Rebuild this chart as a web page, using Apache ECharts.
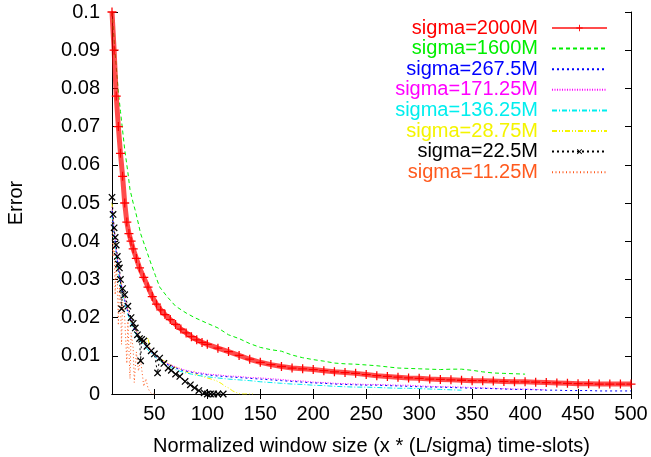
<!DOCTYPE html>
<html>
<head>
<meta charset="utf-8">
<script src="https://cdn.jsdelivr.net/npm/echarts@6/dist/echarts.min.js"></script>
<style>
  html, body { margin: 0; padding: 0; background: #fff; }
  #chart { width: 651px; height: 457px; }
</style>
</head>
<body>
<div id="chart"></div>
<script>
// x ticks / y range
const xTicks = [50, 100, 150, 200, 250, 300, 350, 400, 450, 500];

// [window size, error]
const s2000 = [[10,0.1],[12,0.090],[14,0.078],[16,0.070],[18,0.063],[20,0.057],[22,0.050],[24,0.045],[26,0.042],[28,0.040],[30,0.038],[33,0.0355],[36,0.033],[40,0.0305],[44,0.028],[48,0.0255],[52,0.0235],[56,0.022],[60,0.0208],[65,0.0195],[70,0.0182],[75,0.0170],[80,0.0160],[85,0.0150],[90,0.0142],[95,0.0135],[100,0.0130],[110,0.0120],[120,0.0111],[130,0.0101],[140,0.0091],[150,0.0083],[160,0.0077],[170,0.0072],[180,0.0068],[190,0.0066],[200,0.0064],[210,0.0061],[220,0.0058],[230,0.0056],[240,0.0054],[250,0.0051],[260,0.0048],[270,0.0046],[280,0.0044],[290,0.0042],[300,0.0041],[310,0.0039],[320,0.0038],[330,0.0037],[340,0.0036],[350,0.0035],[360,0.0035],[370,0.0034],[380,0.0033],[390,0.0032],[400,0.0032],[410,0.0031],[420,0.0030],[430,0.0029],[440,0.0028],[450,0.0027],[460,0.0027],[470,0.0026],[480,0.0026],[490,0.0026],[500,0.0026]];
const s1600 = [[10,0.1],[13,0.089],[16,0.079],[18,0.074],[20,0.069],[22,0.064],[25,0.058],[27,0.0535],[30,0.050],[32,0.048],[35,0.0445],[37,0.042],[42,0.038],[47,0.034],[51,0.031],[55,0.028],[62,0.0255],[70,0.023],[80,0.0212],[88,0.020],[100,0.0185],[110,0.0173],[120,0.0155],[130,0.0145],[140,0.0132],[150,0.0122],[160,0.0116],[170,0.0112],[180,0.0102],[190,0.0095],[200,0.0090],[210,0.0086],[220,0.0081],[230,0.0079],[240,0.0078],[250,0.0076],[260,0.0074],[270,0.0071],[280,0.0068],[290,0.0067],[300,0.0066],[310,0.0065],[320,0.0064],[330,0.0065],[340,0.0065],[350,0.0062],[360,0.0058],[370,0.0055],[380,0.0054],[390,0.0053],[400,0.0052]];
const s267 = [[10,0.048],[11,0.045],[12,0.042],[13,0.040],[14,0.037],[15,0.035],[16,0.033],[17,0.031],[18,0.0295],[19,0.028],[20,0.0265],[22,0.0245],[24,0.0225],[26,0.0205],[28,0.019],[30,0.0175],[33,0.016],[36,0.0145],[40,0.0133],[44,0.012],[48,0.0108],[52,0.0097],[56,0.0088],[60,0.0080],[65,0.0074],[70,0.0068],[75,0.0063],[80,0.0060],[85,0.0057],[90,0.0054],[95,0.0052],[100,0.0050],[110,0.0047],[120,0.0045],[130,0.0043],[140,0.0041],[150,0.0039],[160,0.0037],[170,0.0035],[180,0.0033],[190,0.0031],[200,0.0029],[210,0.0028],[220,0.0026],[230,0.0025],[240,0.0024],[250,0.0023],[260,0.0023],[270,0.0022],[280,0.0021],[290,0.0020],[300,0.0019],[310,0.0018],[320,0.0018],[330,0.0017],[340,0.0016],[350,0.0015],[360,0.0015],[370,0.0014],[380,0.0013],[390,0.0012],[400,0.0012],[410,0.0011],[420,0.0010],[430,0.0010],[440,0.0009],[450,0.0009],[460,0.0009],[470,0.0008],[480,0.0008],[490,0.0008],[500,0.0008]];
const s171 = [[10,0.049],[11,0.046],[12,0.043],[13,0.041],[14,0.038],[15,0.036],[16,0.034],[17,0.032],[18,0.030],[19,0.029],[20,0.027],[22,0.025],[24,0.023],[26,0.021],[28,0.0195],[30,0.018],[33,0.0165],[36,0.015],[40,0.0138],[44,0.0125],[48,0.0112],[52,0.0100],[56,0.0090],[60,0.0083],[65,0.0077],[70,0.0071],[75,0.0066],[80,0.0062],[85,0.0059],[90,0.0056],[95,0.0055],[100,0.0052],[110,0.0050],[120,0.0047],[130,0.0046],[140,0.0043],[150,0.0042],[160,0.0040],[170,0.0038],[180,0.0035],[190,0.0034],[200,0.0031],[210,0.0030],[220,0.0028],[230,0.0027],[240,0.0026],[250,0.0025],[260,0.0025],[270,0.0024],[280,0.0023],[290,0.0023],[300,0.0021],[310,0.0020],[320,0.0019],[330,0.0019],[340,0.0018],[350,0.0017],[360,0.0016],[370,0.0015],[380,0.0014],[390,0.0013],[400,0.0013],[410,0.0012],[420,0.0011]];
const s136 = [[10,0.047],[11,0.044],[12,0.041],[13,0.039],[14,0.036],[15,0.034],[16,0.032],[17,0.030],[18,0.028],[19,0.027],[20,0.026],[22,0.024],[24,0.022],[26,0.020],[28,0.0185],[30,0.017],[33,0.0155],[36,0.014],[40,0.0128],[44,0.0115],[48,0.0104],[52,0.0094],[56,0.0085],[60,0.0077],[65,0.0070],[70,0.0064],[75,0.0059],[80,0.0055],[85,0.0052],[90,0.0049],[95,0.0047],[100,0.0045],[110,0.0042],[120,0.0039],[130,0.0037],[140,0.0035],[150,0.0032],[160,0.0030],[170,0.0028],[180,0.0026],[190,0.0025],[200,0.0023],[210,0.0022],[220,0.0020],[230,0.0019],[240,0.0018],[250,0.0018],[260,0.0017],[270,0.0016],[280,0.0015],[290,0.0015],[300,0.0014],[310,0.0013],[320,0.0012],[330,0.0011],[340,0.0010]];
const s28 = [[10,0.050],[11,0.046],[12,0.043],[13,0.040],[14,0.037],[15,0.035],[16,0.033],[18,0.030],[20,0.027],[22,0.025],[24,0.023],[26,0.021],[28,0.019],[30,0.018],[34,0.016],[38,0.0145],[41,0.013],[44,0.0147],[46,0.0118],[50,0.0106],[55,0.0094],[60,0.0085],[65,0.0077],[70,0.0070],[75,0.0064],[80,0.0058],[85,0.0052],[88,0.0060],[90,0.0050],[95,0.0046],[100,0.0042],[105,0.0038],[109,0.0034],[113,0.0028],[117,0.0020],[120,0.0016],[124,0.0008],[128,0.0003],[131,0],[135,0],[140,0],[143,0]];
const s22 = [[10,0.0515],[11,0.047],[12,0.0435],[13,0.041],[14,0.039],[15,0.036],[16,0.034],[17,0.033],[18,0.030],[19,0.0223],[20,0.0276],[22,0.026],[25,0.023],[28,0.020],[30,0.0185],[32,0.0173],[34,0.0155],[36,0.0145],[37,0.0087],[38,0.0143],[40,0.0139],[43,0.0125],[47,0.0113],[50,0.0105],[53,0.0055],[55,0.0094],[59,0.0080],[63,0.0068],[66,0.0062],[70,0.0052],[74,0.0046],[79,0.0033],[84,0.0024],[88,0.0016],[92,0.0009],[97,0.0003],[100,0],[103,0],[106,0],[110,0],[115,0]];
const s11 = [[10,0.045],[11,0.036],[12,0.040],[13,0.026],[14,0.034],[15,0.030],[16,0.018],[17,0.028],[18,0.024],[19,0.013],[20,0.024],[22,0.020],[24,0.008],[25,0.019],[27,0.004],[28,0.016],[30,0.012],[31,0.003],[33,0.011],[35,0.006],[37,0.009],[40,0.002],[42,0.004],[44,0.0015],[46,0.0005],[48,0],[50,0]];

const names = ['sigma=2000M','sigma=1600M','sigma=267.5M','sigma=171.25M','sigma=136.25M','sigma=28.75M','sigma=22.5M','sigma=11.25M'];
const colors = ['#ff0000','#00ee00','#0000ff','#ff00ff','#00eeee','#f4f400','#000000','#ff5a1e'];
const dashes = ['solid',[4,3],[2,3],[1,1.5],[5,2,1,2],[5,2,1,2,1,2],[2,3],[1,2.5]];
const datasets = [s2000, s1600, s267, s171, s136, s28, s22, s11];

const FONT = '"Liberation Sans", Arial, sans-serif';
const plus = 'path://M4.3,0H5.7V4.3H10V5.7H5.7V10H4.3V5.7H0V4.3H4.3Z';

const chart = echarts.init(document.getElementById('chart'), null, {renderer: 'canvas'});

const series = datasets.map(function (d, i) {
  const s = {
    name: names[i],
    type: 'line',
    data: d,
    xAxisIndex: 0,
    yAxisIndex: 0,
    symbol: 'none',
    lineStyle: {color: colors[i], width: 1, type: dashes[i]},
    itemStyle: {color: colors[i]},
    z: 10 - i
  };
  if (i === 0) {
    s.symbol = plus;
    s.symbolSize = 9;
    s.lineStyle.width = 5;
    s.lineStyle.opacity = 0.7;
    s.z = 12;
  }
  if (i === 6) {
    s.symbol = plus;
    s.symbolRotate = 45;
    s.symbolSize = 9;
    s.z = 11;
  }
  return s;
});

const legends = names.map(function (n, i) {
  const hasMark = (i === 0 || i === 6);
  return {
    data: [n],
    right: 43,
    top: 18 + i * 20.6,
    padding: 0,
    align: 'right',
    itemWidth: 55,
    itemHeight: 8,
    selectedMode: false,
    itemStyle: hasMark ? {} : {opacity: 0},
    lineStyle: i === 0 ? {width: 2} : {},
    textStyle: {color: colors[i], fontSize: 20, fontFamily: FONT, padding: [0, 9, 0, 0]}
  };
});

const axisCommon = {
  type: 'value',
  axisLine: {show: true, lineStyle: {color: '#000', width: 1}},
  splitLine: {show: false}
};

const option = {
  animation: false,
  backgroundColor: '#fff',
  grid: {left: 112, right: 20, top: 12, bottom: 63, outerBoundsMode: 'none', containLabel: false},
  legend: legends,
  xAxis: [
    Object.assign({}, axisCommon, {
      min: 10, max: 500,
      position: 'bottom',
      name: 'Normalized window size (x * (L/sigma) time-slots)',
      nameLocation: 'middle',
      nameGap: 42,
      nameTextStyle: {color: '#000', fontSize: 20, fontFamily: FONT},
      axisTick: {inside: true, length: 5, customValues: xTicks, lineStyle: {color: '#000'}},
      axisLabel: {customValues: xTicks, color: '#000', fontSize: 20, fontFamily: FONT, margin: 10}
    }),
    Object.assign({}, axisCommon, {
      min: 10, max: 500,
      position: 'top',
      axisTick: {inside: true, length: 5, customValues: xTicks, lineStyle: {color: '#000'}},
      axisLabel: {show: false}
    })
  ],
  yAxis: [
    Object.assign({}, axisCommon, {
      min: 0, max: 0.1, interval: 0.01,
      position: 'left',
      name: 'Error',
      nameLocation: 'middle',
      nameGap: 86,
      nameRotate: 90,
      nameTextStyle: {color: '#000', fontSize: 20, fontFamily: FONT},
      axisTick: {inside: true, length: 6, lineStyle: {color: '#000'}},
      axisLabel: {color: '#000', fontSize: 20, fontFamily: FONT, margin: 12,
        formatter: function (v) { return String(+v.toFixed(2)); }}
    }),
    Object.assign({}, axisCommon, {
      min: 0, max: 0.1, interval: 0.01,
      position: 'right',
      axisTick: {inside: true, length: 6, lineStyle: {color: '#000'}},
      axisLabel: {show: false}
    })
  ],
  series: series
};

chart.setOption(option);
</script>
</body>
</html>
